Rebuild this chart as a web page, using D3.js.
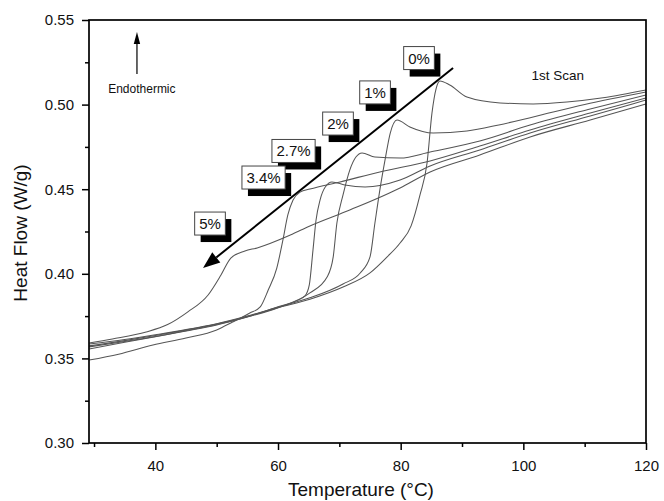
<!DOCTYPE html>
<html><head><meta charset="utf-8">
<script src="https://cdn.jsdelivr.net/npm/d3@7/dist/d3.min.js"></script>
<style>
html,body{margin:0;padding:0;background:#fff;}
svg text{font-family:"Liberation Sans", Arial, sans-serif;}
</style></head>
<body>
<script>
// ---- data (Temperature °C, Heat Flow W/g) ----
const xTicks = [40, 60, 80, 100, 120];
const xMinorTicks = [30, 50, 70, 90, 110];
const yTicks = [0.30, 0.35, 0.40, 0.45, 0.50, 0.55];
const yMinorTicks = [0.325, 0.375, 0.425, 0.475, 0.525];
const seriesLabels = ["0%", "1%", "2%", "2.7%", "3.4%", "5%"];

const s0 = [[29.2,0.3574],[35,0.3605],[40,0.3635],[45,0.3668],[50,0.3703],[55,0.3748],[60,0.3800],[65.2,0.3850],[70.6,0.3922],[75.0,0.4005],[77.8,0.4100],[79.9,0.4182],[81.7,0.4283],[83.15,0.4466],[84.3,0.4655],[85.1,0.4950],[85.8,0.5098],[86.4,0.5140],[88.0,0.5116],[90.8,0.5045],[96.2,0.5010],[101.6,0.5004],[107.1,0.5015],[113,0.5040],[120,0.5086]];
const s1 = [[29.2,0.3585],[35,0.3612],[40,0.3640],[45,0.3670],[50,0.3705],[55,0.3750],[60,0.3803],[65.2,0.3858],[70.6,0.3940],[73.4,0.4005],[75.0,0.4100],[75.8,0.4300],[76.6,0.4495],[77.45,0.4673],[78.3,0.4832],[79.4,0.4909],[81.5,0.4868],[85.3,0.4832],[90.8,0.4844],[96,0.4880],[101.6,0.4927],[110,0.5000],[120,0.5074]];
const s2 = [[29.2,0.3556],[35,0.3595],[40,0.3628],[45,0.3662],[50,0.3698],[55,0.3745],[60,0.3800],[65.2,0.3887],[68.0,0.3981],[69.0,0.4100],[69.6,0.4300],[70.6,0.4466],[71.7,0.4613],[72.7,0.4690],[73.7,0.4714],[75.8,0.4690],[79.9,0.4684],[84.8,0.4720],[92.9,0.4785],[101.1,0.4879],[110.9,0.4974],[120,0.5057]];
const s27 = [[29.2,0.3568],[35,0.3600],[40,0.3630],[45,0.3664],[50,0.3700],[55,0.3746],[60,0.3805],[63,0.3840],[64.4,0.3869],[65.1,0.3934],[65.7,0.4140],[66.2,0.4318],[66.85,0.4436],[67.7,0.4513],[68.8,0.4543],[70.9,0.4525],[74.2,0.4513],[79.9,0.4554],[84.8,0.4637],[92.9,0.4732],[101.1,0.4832],[110.9,0.4933],[120,0.5027]];
const s34 = [[29.2,0.3490],[34,0.3525],[39.6,0.3579],[45,0.3620],[50,0.3668],[52.6,0.3715],[55.4,0.3768],[57.1,0.3804],[58.4,0.3904],[59.8,0.4034],[60.8,0.4200],[61.6,0.4348],[62.45,0.4436],[63.6,0.4483],[65.2,0.4501],[70.1,0.4543],[76.6,0.4602],[84.8,0.4667],[92.9,0.4755],[101.1,0.4850],[110.9,0.4950],[120,0.5039]];
const s5 = [[29.2,0.3591],[33,0.3615],[38.5,0.3656],[42,0.3700],[45.3,0.3775],[48.6,0.3875],[50.7,0.3993],[52.3,0.4093],[54.6,0.4135],[56.6,0.4153],[62.0,0.4229],[65.2,0.4283],[71.7,0.4377],[79.9,0.4507],[84.8,0.4602],[92.9,0.4702],[101.1,0.4809],[110.9,0.4909],[120,0.5004]];
const allSeries = [s0, s1, s2, s27, s34, s5];

// ---- chart ----
const W = 664, H = 501;
const svg = d3.select("body").append("svg").attr("width", W).attr("height", H);
svg.append("rect").attr("width", W).attr("height", H).attr("fill", "#fff");

const x = d3.scaleLinear().domain([29.18, 120]).range([89, 646]);
const y = d3.scaleLinear().domain([0.30, 0.55]).range([443, 20]);

svg.append("defs").append("clipPath").attr("id", "clip")
  .append("rect").attr("x", x.range()[0]).attr("y", y.range()[1])
  .attr("width", x.range()[1] - x.range()[0]).attr("height", y.range()[0] - y.range()[1]);

// curves
const line = d3.line().x(d => x(d[0])).y(d => y(d[1])).curve(d3.curveMonotoneX);
svg.append("g").attr("clip-path", "url(#clip)")
  .selectAll("path").data(allSeries).join("path")
  .attr("d", line).attr("fill", "none").attr("stroke", "#555").attr("stroke-width", 1.05);

// axes
const tickFont = 15;
const gx = svg.append("g").attr("transform", `translate(0,${y.range()[0]})`)
  .call(d3.axisBottom(x).tickValues(xTicks).tickSize(7).tickSizeOuter(0).tickPadding(10).tickFormat(d3.format("d")));
const gxm = svg.append("g").attr("transform", `translate(0,${y.range()[0]})`)
  .call(d3.axisBottom(x).tickValues(xMinorTicks).tickSize(4).tickSizeOuter(0).tickFormat(""));
const gy = svg.append("g").attr("transform", `translate(${x.range()[0]},0)`)
  .call(d3.axisLeft(y).tickValues(yTicks).tickSize(7).tickSizeOuter(0).tickPadding(8).tickFormat(d3.format(".2f")));
const gym = svg.append("g").attr("transform", `translate(${x.range()[0]},0)`)
  .call(d3.axisLeft(y).tickValues(yMinorTicks).tickSize(4).tickSizeOuter(0).tickFormat(""));
[gx, gxm, gy, gym].forEach(g => {
  g.select(".domain").remove();
  g.selectAll(".tick line").attr("stroke", "#000").attr("stroke-width", 1.5);
  g.selectAll(".tick text").attr("font-size", tickFont).attr("fill", "#111")
    .attr("font-family", '"Liberation Sans", Arial, sans-serif');
});

// frame
svg.append("rect").attr("x", x.range()[0]).attr("y", y.range()[1])
  .attr("width", x.range()[1] - x.range()[0]).attr("height", y.range()[0] - y.range()[1])
  .attr("fill", "none").attr("stroke", "#000").attr("stroke-width", 1.7);

// axis titles
svg.append("text").attr("x", 361).attr("y", 496).attr("text-anchor", "middle")
  .attr("font-size", 19).attr("fill", "#111").text("Temperature (°C)");
svg.append("text").attr("transform", "translate(27,233) rotate(-90)").attr("text-anchor", "middle")
  .attr("font-size", 19).attr("fill", "#111").text("Heat Flow (W/g)");

// annotations (positions in data units)
const ann = svg.append("g");
// endothermic arrow
const ex = x(37.0), ey0 = y(0.5181), ey1 = y(0.5429);
ann.append("line").attr("x1", ex).attr("x2", ex).attr("y1", ey0).attr("y2", ey1 + 10)
  .attr("stroke", "#000").attr("stroke-width", 1.2);
ann.append("path").attr("d", `M${ex},${ey1} L${ex - 3.2},${ey1 + 12} L${ex + 3.2},${ey1 + 12} Z`).attr("fill", "#000");
ann.append("text").attr("x", x(37.8)).attr("y", y(0.5069)).attr("text-anchor", "middle")
  .attr("font-size", 12).attr("fill", "#111").text("Endothermic");
ann.append("text").attr("x", x(105.6)).attr("y", y(0.5145)).attr("text-anchor", "middle")
  .attr("font-size", 13.5).attr("fill", "#111").text("1st Scan");

// big diagonal arrow
const ax0 = x(88.54), ay0 = y(0.5216), ax1 = x(47.77), ay1 = y(0.4034);
const ang = Math.atan2(ay1 - ay0, ax1 - ax0);
const hl = 17, hw = 6.5;
const bx = ax1 - hl * Math.cos(ang), by = ay1 - hl * Math.sin(ang);
ann.append("line").attr("x1", ax0).attr("y1", ay0).attr("x2", bx).attr("y2", by)
  .attr("stroke", "#000").attr("stroke-width", 2);
ann.append("path").attr("d",
  `M${ax1},${ay1} L${bx + hw * Math.sin(ang)},${by - hw * Math.cos(ang)} L${bx - hw * Math.sin(ang)},${by + hw * Math.cos(ang)} Z`)
  .attr("fill", "#000");

// label boxes with shadows
const labelPos = [[82.99,0.5275],[75.82,0.5072],[69.78,0.4888],[62.53,0.4726],[57.64,0.4569],[48.91,0.4297]];
seriesLabels.forEach((lab, i) => {
  const cx = x(labelPos[i][0]), cy = y(labelPos[i][1]);
  const g = ann.append("g");
  const t = g.append("text").attr("x", cx).attr("y", cy + 5.5).attr("text-anchor", "middle")
    .attr("font-size", 15).attr("fill", "#111").text(lab);
  const w = t.node().getComputedTextLength() + 9, h = 23;
  g.insert("rect", "text").attr("x", cx - w / 2 + 6).attr("y", cy - h / 2 + 7).attr("width", w).attr("height", h).attr("fill", "#000");
  g.insert("rect", "text").attr("x", cx - w / 2).attr("y", cy - h / 2).attr("width", w).attr("height", h)
    .attr("fill", "#fff").attr("stroke", "#444").attr("stroke-width", 1);
});
</script>
</body></html>
